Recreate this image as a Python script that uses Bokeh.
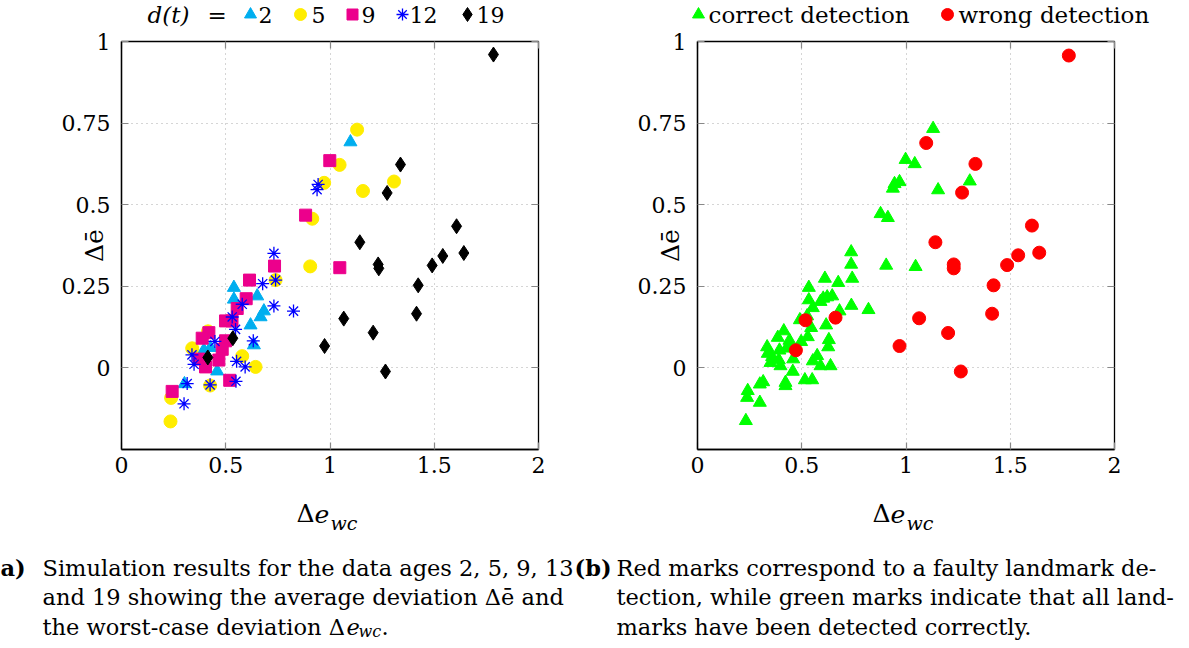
import math
from bokeh.plotting import figure
from bokeh.models import Label, LinearAxis, FixedTicker, Range1d
from bokeh.layouts import row, column
from bokeh.embed import file_html
from bokeh.resources import INLINE

# ---------------- data ----------------
x_ticks = [0, 0.5, 1, 1.5, 2]
x_tick_labels = ["0", "0.5", "1", "1.5", "2"]
y_ticks = [0, 0.25, 0.5, 0.75, 1]
y_tick_labels = ["0", "0.25", "0.5", "0.75", "1"]

# (a) data age d(t) = 2
d2_x = [1.098, 0.539, 0.651, 0.539, 0.683, 0.667, 0.619, 0.635, 0.427, 0.395, 0.459, 0.302]
d2_y = [0.692, 0.246, 0.220, 0.210, 0.174, 0.156, 0.131, 0.070, 0.062, 0.054, -0.010, -0.049]
# d(t) = 5
d5_x = [1.130, 1.046, 0.972, 1.307, 1.158, 0.915, 0.905, 0.739, 0.579, 0.643, 0.339, 0.425, 0.238, 0.235, 0.415]
d5_y = [0.730, 0.622, 0.567, 0.571, 0.542, 0.457, 0.311, 0.269, 0.036, 0.003, 0.060, -0.054, -0.092, -0.164, 0.112]
# d(t) = 9
d9_x = [0.999, 0.883, 1.047, 0.734, 0.614, 0.598, 0.555, 0.499, 0.530, 0.419, 0.387, 0.499, 0.483, 0.467, 0.371, 0.403, 0.519, 0.243]
d9_y = [0.635, 0.468, 0.307, 0.312, 0.269, 0.212, 0.182, 0.144, 0.144, 0.108, 0.091, 0.083, 0.057, 0.024, 0.027, 0.003, -0.038, -0.072]
# d(t) = 12
d12_x = [0.943, 0.938, 0.731, 0.739, 0.677, 0.579, 0.731, 0.825, 0.531, 0.547, 0.448, 0.632, 0.338, 0.552, 0.348, 0.593, 0.549, 0.315, 0.425, 0.300]
d12_y = [0.562, 0.546, 0.351, 0.269, 0.258, 0.195, 0.190, 0.174, 0.156, 0.118, 0.081, 0.083, 0.040, 0.020, 0.011, 0.003, -0.041, -0.048, -0.052, -0.110]
# d(t) = 19
d19_x = [0.414, 0.534, 0.974, 1.066, 1.143, 1.207, 1.231, 1.234, 1.266, 1.274, 1.338, 1.415, 1.423, 1.490, 1.541, 1.607, 1.642, 1.784]
d19_y = [0.032, 0.091, 0.067, 0.151, 0.385, 0.108, 0.317, 0.305, -0.011, 0.536, 0.623, 0.166, 0.253, 0.314, 0.343, 0.434, 0.352, 0.960]

# (b) detection result
correct_x = [1.130, 0.998, 1.042, 1.306, 0.969, 0.945, 0.937, 1.154, 0.878, 0.913, 0.905, 1.046,
             0.737, 0.737, 0.742, 0.738, 0.820, 0.611, 0.675, 0.534, 0.534, 0.603, 0.622, 0.646,
             0.590, 0.553, 0.681, 0.526, 0.491, 0.545, 0.617, 0.529, 0.414, 0.385, 0.441, 0.497,
             0.630, 0.627, 0.334, 0.337, 0.393, 0.430, 0.438, 0.358, 0.350, 0.390, 0.398, 0.459,
             0.574, 0.553, 0.590, 0.638, 0.457, 0.515, 0.550, 0.422, 0.422, 0.299, 0.315, 0.241,
             0.238, 0.299, 0.232]
correct_y = [0.733, 0.638, 0.625, 0.572, 0.570, 0.564, 0.550, 0.545, 0.472, 0.460, 0.314, 0.310,
             0.355, 0.317, 0.274, 0.191, 0.178, 0.274, 0.261, 0.246, 0.208, 0.213, 0.217, 0.220,
             0.203, 0.184, 0.174, 0.159, 0.147, 0.123, 0.131, 0.095, 0.113, 0.093, 0.084, 0.080,
             0.086, 0.064, 0.064, 0.044, 0.054, 0.060, 0.072, 0.034, 0.016, 0.024, 0.006, 0.027,
             0.037, 0.021, 0.006, 0.006, -0.011, -0.037, -0.037, -0.045, -0.055, -0.050, -0.043, -0.070,
             -0.091, -0.106, -0.162]
wrong_x = [1.781, 1.097, 1.333, 1.269, 1.604, 1.141, 1.538, 1.639, 1.485, 1.229, 1.229, 1.420,
           1.413, 1.063, 1.202, 0.969, 1.263, 0.518, 0.662, 0.472]
wrong_y = [0.957, 0.689, 0.625, 0.537, 0.436, 0.385, 0.345, 0.353, 0.315, 0.317, 0.305, 0.253,
           0.166, 0.152, 0.107, 0.067, -0.011, 0.146, 0.154, 0.054]

legend_a = ["2", "5", "9", "12", "19"]
legend_b = ["correct detection", "wrong detection"]

# ---------------- style / layout constants ----------------
CYAN = "#00AEEF"
YELLOW = "#FFED00"
MAGENTA = "#EC008C"
BLUE = "#0000FF"
BLACK = "#000000"
GREEN = "#00FF00"
RED = "#FF0000"
SERIF = "DejaVu Serif"

TOTAL_W, TOTAL_H = 1189, 648
TOP_STRIP = 28            # legend strip height
MID_H = 460               # plots row height
BOT_STRIP = TOTAL_H - TOP_STRIP - MID_H
FRAME_TOP_ABS, FRAME_BOTTOM_ABS = 41, 449
FW = 417
W1 = 574
W2 = TOTAL_W - W1
FL1 = 121
FL2 = 697 - W1
CAP = 22.5                # caption font size


def make_fig(width, fl):
    top = FRAME_TOP_ABS - TOP_STRIP
    bottom = MID_H - (FRAME_BOTTOM_ABS - TOP_STRIP)
    p = figure(width=width, height=MID_H, x_range=Range1d(0, 2), y_range=Range1d(-0.25, 1.0),
               output_backend="svg", toolbar_location=None,
               min_border_left=fl, min_border_right=width - fl - FW,
               min_border_top=top, min_border_bottom=bottom)
    p.background_fill_color = "white"
    p.border_fill_color = "white"
    p.outline_line_color = "black"
    p.outline_line_width = 1.3
    for ax, ticks, labels in ((p.xaxis[0], x_ticks, x_tick_labels), (p.yaxis[0], y_ticks, y_tick_labels)):
        ax.ticker = FixedTicker(ticks=ticks)
        ax.major_label_overrides = dict(zip(ticks, labels))
        ax.major_label_text_font = SERIF
        ax.major_label_text_font_size = "22px"
        ax.major_label_text_color = "black"
        ax.major_tick_in = 7
        ax.major_tick_out = 0
        ax.major_tick_line_color = "#888888"
        ax.major_tick_line_width = 1.2
        ax.minor_tick_line_color = None
        ax.axis_line_color = "black"
        ax.axis_line_width = 1.3
    p.xaxis.major_label_standoff = 7
    p.yaxis.major_label_standoff = 11
    p.yaxis.axis_label = "Δē"
    p.yaxis.axis_label_text_font = SERIF
    p.yaxis.axis_label_text_font_size = "25px"
    p.yaxis.axis_label_text_font_style = "normal"
    p.yaxis.axis_label_text_color = "black"
    p.yaxis.axis_label_standoff = -50
    for loc, ticks in (("right", y_ticks), ("above", x_ticks)):
        ax = LinearAxis(ticker=FixedTicker(ticks=ticks),
                        major_label_overrides={t: "" for t in ticks},
                        major_label_text_font_size="1px", major_label_standoff=0,
                        major_tick_in=7, major_tick_out=0,
                        major_tick_line_color="#888888", major_tick_line_width=1.2,
                        minor_tick_line_color=None, axis_line_color=None)
        p.add_layout(ax, loc)
    for g in (p.xgrid[0], p.ygrid[0]):
        g.grid_line_color = "#aaaaaa"
        g.grid_line_dash = "1 4"
        g.grid_line_width = 1
    return p


def make_strip(height):
    s = figure(width=TOTAL_W, height=height, x_range=Range1d(0, TOTAL_W), y_range=Range1d(height, 0),
               output_backend="svg", toolbar_location=None,
               x_axis_location=None, y_axis_location=None,
               min_border_left=0, min_border_right=0, min_border_top=0, min_border_bottom=0)
    s.grid.visible = False
    s.outline_line_color = None
    s.background_fill_color = "white"
    s.border_fill_color = "white"
    return s


def add_text(p, X, Y, text, size=21, style="normal", font=SERIF, align="left",
             color="black", angle=0.0, baseline="middle"):
    # X, Y: canvas pixels from the top-left corner of figure p
    p.add_layout(Label(x=X, y=Y, x_units="canvas", y_units="canvas", text=text,
                       text_font=font, text_font_size=f"{size}px",
                       text_font_style=style, text_align=align, text_baseline=baseline,
                       text_color=color, angle=angle))


# ---------------- (a) plot ----------------
p1 = make_fig(W1, FL1)
p1.scatter(d2_x, d2_y, marker="triangle", size=13, color=CYAN)
p1.scatter(d5_x, d5_y, marker="circle", size=13, color=YELLOW)
p1.scatter(d9_x, d9_y, marker="square", size=12, color=MAGENTA)
p1.scatter(d12_x, d12_y, marker="asterisk", size=13, line_color=BLUE, line_width=1.3)
p1.scatter(d19_x, d19_y, marker="diamond", size=15, color=BLACK)

# ---------------- (b) plot ----------------
p2 = make_fig(W2, FL2)
p2.scatter(correct_x, correct_y, marker="triangle", size=13, color=GREEN)
p2.scatter(wrong_x, wrong_y, marker="circle", size=13, color=RED)

# ---------------- legend strip (top) ----------------
top = make_strip(TOP_STRIP)
LY = 14      # marker and text centre
add_text(top, 147, LY, "d(t)", size=23, style="italic")
add_text(top, 207, LY, "=", size=23)
leg_a_pos = [250, 300, 352, 402, 467]
leg_a_txt = [258, 311, 361, 409, 476]
leg_a_style = [("triangle", CYAN, 12), ("circle", YELLOW, 12), ("square", MAGENTA, 11),
               ("asterisk", BLUE, 12), ("diamond", BLACK, 14)]
for X, (mk, col, sz) in zip(leg_a_pos, leg_a_style):
    if mk == "asterisk":
        top.scatter([X], [LY], marker=mk, size=sz, line_color=col, line_width=1.3)
    else:
        top.scatter([X], [LY], marker=mk, size=sz, color=col)
for tx, lab in zip(leg_a_txt, legend_a):
    add_text(top, tx, LY, lab, size=22)
top.scatter([698], [LY], marker="triangle", size=12, color=GREEN)
add_text(top, 708, LY, legend_b[0], size=23)
top.scatter([947], [LY], marker="circle", size=12, color=RED)
add_text(top, 958, LY, legend_b[1], size=23)

# ---------------- caption strip (bottom) ----------------
bot = make_strip(BOT_STRIP)
Y0 = TOP_STRIP + MID_H   # absolute y of the strip's top edge


def xlabel(off):
    add_text(bot, 305 + off, 513 - Y0, "Δ", size=25, align="center")
    add_text(bot, 314 + off, 513 - Y0, "e", size=25, style="italic")
    add_text(bot, 330 + off, 522 - Y0, "wc", size=19, style="italic")


xlabel(0)
xlabel(576)

add_text(bot, 0, 567 - Y0, "a)", size=CAP, style="bold")
add_text(bot, 42, 567 - Y0, "Simulation results for the data ages 2, 5, 9, 13", size=CAP)
add_text(bot, 42, 596 - Y0, "and 19 showing the average deviation Δē and", size=CAP)
add_text(bot, 42, 626 - Y0, "the worst-case deviation Δ", size=CAP)
add_text(bot, 346, 626 - Y0, "e", size=CAP, style="italic")
add_text(bot, 358, 631 - Y0, "wc", size=16, style="italic")
add_text(bot, 381, 626 - Y0, ".", size=CAP)

add_text(bot, 574, 567 - Y0, "(b)", size=CAP, style="bold")
add_text(bot, 616, 567 - Y0, "Red marks correspond to a faulty landmark de-", size=CAP)
add_text(bot, 616, 596 - Y0, "tection, while green marks indicate that all land-", size=CAP)
add_text(bot, 616, 626 - Y0, "marks have been detected correctly.", size=CAP)

layout = column(top, row(p1, p2), bot)
open("out.html", "w").write(file_html(layout, INLINE))
